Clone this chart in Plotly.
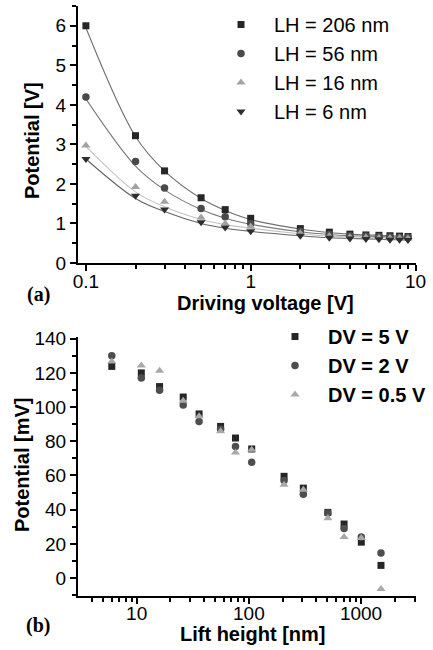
import plotly.graph_objects as go

# ---------------- panel (a): potential vs driving voltage ----------------
drive_v = [0.1, 0.2, 0.3, 0.5, 0.7, 1, 2, 3, 4, 5, 6, 7, 8, 9]

lh_labels = ["LH = 206 nm", "LH = 56 nm", "LH = 16 nm", "LH = 6 nm"]
pot_lh206 = [6.00, 3.22, 2.33, 1.65, 1.35, 1.13, 0.87, 0.78, 0.73, 0.71, 0.70, 0.69, 0.68, 0.67]
pot_lh56 = [4.20, 2.57, 1.90, 1.38, 1.17, 1.00, 0.80, 0.72, 0.69, 0.68, 0.67, 0.66, 0.65, 0.65]
pot_lh16 = [2.97, 1.92, 1.55, 1.15, 1.00, 0.92, 0.75, 0.68, 0.66, 0.65, 0.64, 0.63, 0.63, 0.62]
pot_lh6 = [2.63, 1.70, 1.35, 1.03, 0.90, 0.80, 0.69, 0.64, 0.62, 0.61, 0.60, 0.59, 0.59, 0.58]

# fitted curves, sampled at the same driving voltages
fit_lh206 = [5.95, 3.20, 2.33, 1.63, 1.33, 1.10, 0.86, 0.77, 0.73, 0.71, 0.70, 0.69, 0.68, 0.67]
fit_lh56 = [4.15, 2.45, 1.85, 1.35, 1.13, 0.98, 0.79, 0.72, 0.69, 0.68, 0.67, 0.66, 0.65, 0.65]
fit_lh16 = [2.95, 1.80, 1.42, 1.10, 0.97, 0.88, 0.74, 0.68, 0.66, 0.65, 0.64, 0.63, 0.63, 0.62]
fit_lh6 = [2.63, 1.63, 1.30, 1.00, 0.88, 0.80, 0.69, 0.64, 0.62, 0.61, 0.60, 0.59, 0.59, 0.58]

# ---------------- panel (b): potential vs lift height ----------------
lift_h = [6, 11, 16, 26, 36, 56, 76, 106, 206, 306, 506, 706, 1006, 1506]

dv_labels = ["DV = 5 V", "DV = 2 V", "DV = 0.5 V"]
pot_dv5 = [123.8, 120.0, 112.0, 105.9, 96.0, 88.7, 81.9, 75.5, 59.5, 52.6, 38.4, 31.6, 21.0, 7.4]
pot_dv2 = [130.0, 117.0, 109.8, 101.2, 91.6, 87.0, 77.0, 67.7, 57.0, 49.0, 38.0, 29.0, 24.0, 14.6]
pot_dv05 = [126.7, 124.4, 121.3, 103.7, 94.6, 85.8, 73.5, 75.0, 54.6, 51.7, 35.0, 24.0, 23.4, -6.4]

FONT = "Liberation Sans, Arial, Helvetica, sans-serif"
W, H = 433, 650

fig = go.Figure()

series_a = [
    (pot_lh206, fit_lh206, "square", 7, "#262626", "#6e6e6e"),
    (pot_lh56, fit_lh56, "circle", 7.5, "#4a4a4a", "#7a7a7a"),
    (pot_lh16, fit_lh16, "triangle-up", 8, "#a2a2a2", "#c4c4c4"),
    (pot_lh6, fit_lh6, "triangle-down", 8, "#2e2e2e", "#646464"),
]
for i, (pts, fit, sym, sz, mcol, lcol) in enumerate(series_a):
    fig.add_trace(go.Scatter(
        x=drive_v, y=fit, mode="lines", line=dict(color=lcol, width=1.1, shape="spline"),
        showlegend=False, hoverinfo="skip", xaxis="x", yaxis="y"))
for i, (pts, fit, sym, sz, mcol, lcol) in enumerate(series_a):
    fig.add_trace(go.Scatter(
        x=drive_v, y=pts, mode="markers", name=lh_labels[i],
        marker=dict(symbol=sym, size=sz, color=mcol, line=dict(width=0)),
        legend="legend", legendgroup=f"a{i}", xaxis="x", yaxis="y"))

series_b = [
    (pot_dv5, "square", 7, "#262626"),
    (pot_dv2, "circle", 7.5, "#4e4e4e"),
    (pot_dv05, "triangle-up", 8, "#a8a8a8"),
]
for i, (pts, sym, sz, col) in enumerate(series_b):
    fig.add_trace(go.Scatter(
        x=lift_h, y=pts, mode="markers", name=dv_labels[i],
        marker=dict(symbol=sym, size=sz, color=col, line=dict(width=0)),
        legend="legend2", legendgroup=f"b{i}", xaxis="x2", yaxis="y2"))


def px_x(p):
    return p / W


def px_y(p):
    return 1 - p / H


axis_common = dict(
    showline=True, linecolor="black", linewidth=2, mirror=False,
    ticks="outside", ticklen=6, tickwidth=1.5, tickcolor="black",
    showgrid=False, zeroline=False, automargin=False,
    tickfont=dict(family=FONT, size=19, color="black"),
)
minor_style = dict(ticks="outside", ticklen=4, tickwidth=1.5, tickcolor="black")

minor_a = [m * 0.1 for m in range(2, 10)] + [float(m) for m in range(2, 10)]
minor_b = [m * 10 ** e for e in range(0, 4) for m in range(2, 10) if 3 < m * 10 ** e < 3100]

fig.update_layout(
    template="none",
    width=W, height=H,
    margin=dict(l=0, r=0, t=0, b=0, pad=0),
    paper_bgcolor="white", plot_bgcolor="white",
    font=dict(family=FONT, color="black"),
    xaxis=dict(
        axis_common, type="log", range=[-1.048, 1.003],
        domain=[px_x(78), px_x(416)], anchor="y",
        tickvals=[0.1, 1, 10], ticktext=["0.1", "1", "10"], ticklabelstandoff=-6,
        minor=dict(minor_style, tickvals=minor_a),
    ),
    yaxis=dict(
        axis_common, range=[0, 6.5], domain=[px_y(263), px_y(6)], anchor="x",
        tickvals=[0, 1, 2, 3, 4, 5, 6],
        minor=dict(minor_style, dtick=0.5),
    ),
    xaxis2=dict(
        axis_common, type="log", range=[0.477, 3.49],
        domain=[px_x(78), px_x(416)], anchor="y2",
        tickvals=[10, 100, 1000], ticktext=["10", "100", "1000"], ticklabelstandoff=-7,
        minor=dict(minor_style, tickvals=minor_b),
    ),
    yaxis2=dict(
        axis_common, range=[-10.5, 141], domain=[px_y(596), px_y(337)], anchor="x2",
        tickvals=[0, 20, 40, 60, 80, 100, 120, 140],
        minor=dict(minor_style, dtick=10, tick0=0),
    ),
    legend=dict(
        x=px_x(208), y=px_y(5), xanchor="left", yanchor="top",
        bgcolor="rgba(0,0,0,0)", borderwidth=0, tracegroupgap=0, itemwidth=56,
        font=dict(family=FONT, size=20, color="black"), itemsizing="trace",
    ),
    legend2=dict(
        x=px_x(262), y=px_y(317), xanchor="left", yanchor="top",
        bgcolor="rgba(0,0,0,0)", borderwidth=0, tracegroupgap=0, itemwidth=56,
        font=dict(family=FONT, size=20, color="black", weight="bold"), itemsizing="trace",
    ),
)

title_font = dict(family=FONT, size=20, color="black", weight="bold")
label_font = dict(family="Liberation Serif, Times New Roman, serif", size=20, color="black", weight="bold")


def add_text(text, x, y, font, angle=0):
    fig.add_annotation(text=text, textangle=angle, x=px_x(x), y=px_y(y),
                       xref="paper", yref="paper", xanchor="center", yanchor="middle",
                       showarrow=False, font=font)


add_text("Potential [V]", 32, 141, title_font, -90)
add_text("Driving voltage [V]", 265, 303, title_font)
add_text("Potential [mV]", 22, 465, title_font, -90)
add_text("Lift height [nm]", 253, 634, title_font)
add_text("(a)", 38, 295, label_font)
add_text("(b)", 38, 625, label_font)

fig.write_html("out.html")
